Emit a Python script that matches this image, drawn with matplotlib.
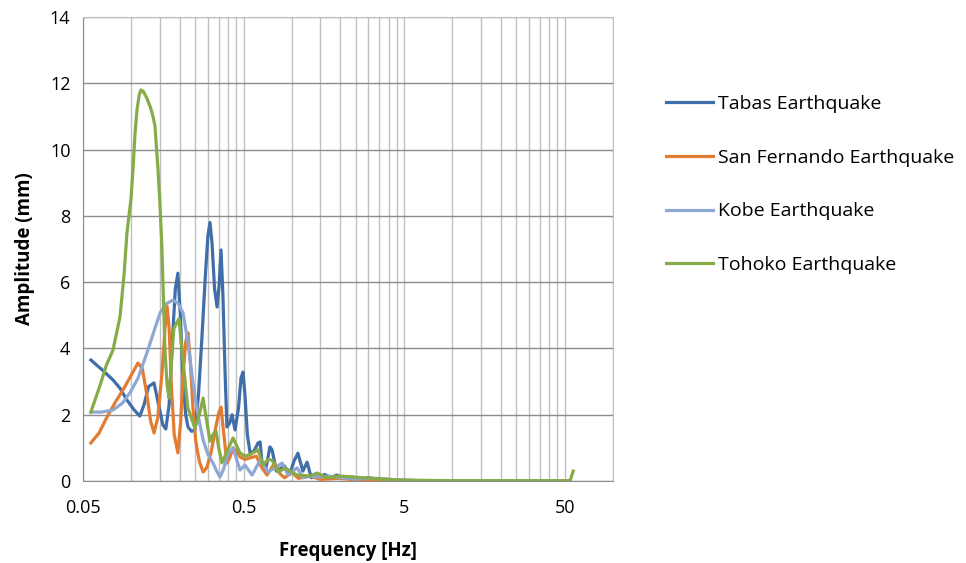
import numpy as np
import matplotlib
matplotlib.use('Agg')
import matplotlib.pyplot as plt
from matplotlib.ticker import FixedLocator, FixedFormatter, NullFormatter

plt.rcParams['font.family'] = ['Open Sans', 'DejaVu Sans']

# data (frequency in Hz, amplitude in mm)
tabas_f = [0.056, 0.066, 0.0769, 0.085, 0.094, 0.104, 0.113, 0.12, 0.128, 0.1385, 0.148, 0.157, 0.164,
           0.172, 0.18, 0.188, 0.195, 0.202, 0.21, 0.218, 0.2255, 0.237, 0.249, 0.262, 0.275, 0.29, 0.3,
           0.309, 0.318, 0.33, 0.342, 0.352, 0.362, 0.372, 0.384, 0.394, 0.41, 0.424, 0.4425, 0.465,
           0.482, 0.496, 0.51, 0.528, 0.549, 0.58, 0.616, 0.634, 0.652, 0.69, 0.73, 0.753, 0.8, 0.9,
           0.97, 1.03, 1.09, 1.17, 1.244, 1.32, 1.4, 1.5, 1.6, 1.73, 1.91, 2.1, 2.4, 2.7, 3.0, 3.5, 4.2,
           6.3, 15.0, 54.0]
tabas_a = [3.65, 3.35, 3.05, 2.8, 2.44, 2.15, 1.96, 2.3, 2.85, 2.96, 2.3, 1.7, 1.57,
           2.3, 4.2, 5.8, 6.27, 5.0, 3.0, 2.0, 1.63, 1.5, 1.54, 2.6, 4.3, 6.3, 7.4,
           7.8, 7.2, 5.8, 5.25, 5.9, 6.97, 5.6, 3.2, 1.63, 1.75, 2.0, 1.54, 2.2,
           3.1, 3.29, 2.6, 1.4, 0.85, 0.9, 1.15, 1.18, 0.54, 0.4, 1.03, 0.94, 0.3, 0.45,
           0.2, 0.6, 0.84, 0.3, 0.57, 0.1, 0.2, 0.12, 0.2, 0.1, 0.18, 0.08, 0.12, 0.06, 0.1, 0.04, 0.03,
           0.01, 0.005, 0.005]

fernando_f = [0.056, 0.063, 0.07, 0.08, 0.09, 0.1, 0.11, 0.117, 0.125, 0.132, 0.1385, 0.146, 0.155,
              0.162, 0.167, 0.172, 0.178, 0.185, 0.195, 0.203, 0.21, 0.218, 0.2255, 0.233, 0.242, 0.252,
              0.265, 0.28, 0.295, 0.315, 0.335, 0.35, 0.362, 0.375, 0.394, 0.41, 0.43, 0.45, 0.475,
              0.51, 0.55, 0.6, 0.65, 0.7, 0.78, 0.85, 0.9, 1.0, 1.1, 1.3, 1.5, 2.0, 2.5, 4.0, 10.0, 54.0]
fernando_a = [1.15, 1.45, 1.9, 2.4, 2.8, 3.2, 3.56, 3.4, 2.6, 1.8, 1.45, 1.9, 3.2,
              4.6, 5.28, 4.6, 2.8, 1.4, 0.85, 1.8, 3.2, 4.2, 4.47, 3.6, 2.2, 1.2,
              0.6, 0.27, 0.4, 0.9, 1.6, 2.05, 2.23, 1.5, 0.54, 0.7, 1.0, 0.9, 0.73,
              0.65, 0.7, 0.75, 0.4, 0.18, 0.54, 0.2, 0.1, 0.25, 0.08, 0.15, 0.05, 0.08, 0.03, 0.01, 0.003, 0.003]

kobe_f = [0.056, 0.065, 0.0769, 0.088, 0.098, 0.11, 0.125, 0.138, 0.151, 0.165, 0.182, 0.196, 0.21,
          0.225, 0.242, 0.26, 0.28, 0.3, 0.323, 0.34, 0.357, 0.375, 0.4, 0.43, 0.45, 0.475, 0.51,
          0.565, 0.634, 0.71, 0.87, 0.947, 1.077, 1.17, 1.3, 1.5, 1.7, 2.0, 2.5, 3.0, 3.5, 4.5, 6.3,
          15.0, 54.0]
kobe_a = [2.08, 2.08, 2.14, 2.35, 2.66, 3.1, 3.86, 4.5, 5.07, 5.35, 5.46, 5.35, 5.07,
          4.2, 2.96, 2.0, 1.24, 0.8, 0.54, 0.3, 0.12, 0.35, 0.8, 1.0, 0.7, 0.33, 0.48,
          0.18, 0.63, 0.27, 0.54, 0.18, 0.4, 0.1, 0.15, 0.12, 0.15, 0.1, 0.06, 0.08, 0.08, 0.03, 0.01,
          0.005, 0.005]

tohoku_f = [0.056, 0.064, 0.07, 0.0769, 0.085, 0.09, 0.094, 0.0995, 0.1024, 0.1055, 0.1085, 0.112,
            0.1149, 0.119, 0.125, 0.131, 0.1365, 0.1405, 0.1466, 0.151, 0.155, 0.159, 0.162, 0.167,
            0.172, 0.178, 0.184, 0.198, 0.21, 0.225, 0.249, 0.265, 0.28, 0.295, 0.309, 0.322, 0.337,
            0.35, 0.367, 0.395, 0.43, 0.475, 0.51, 0.55, 0.616, 0.661, 0.71, 0.753, 0.82, 0.907,
            1.077, 1.3, 1.435, 1.66, 2.0, 2.4, 2.94, 4.72, 10.0, 54.0, 56.5]
tohoku_a = [2.08, 2.9, 3.5, 3.95, 4.95, 6.2, 7.5, 8.5, 9.4, 10.5, 11.2, 11.65,
            11.8, 11.75, 11.55, 11.3, 11.0, 10.7, 9.4, 8.3, 7.06, 5.3, 3.95, 2.9,
            2.5, 3.6, 4.6, 4.9, 3.6, 2.2, 1.6, 2.0, 2.5, 1.8, 1.2, 1.4, 1.5,
            1.0, 0.55, 0.9, 1.3, 0.85, 0.75, 0.8, 0.94, 0.48, 0.65, 0.63, 0.27, 0.39,
            0.18, 0.15, 0.24, 0.1, 0.15, 0.12, 0.09, 0.03, 0.01, 0.01, 0.3]

labels = ['Tabas Earthquake', 'San Fernando Earthquake', 'Kobe Earthquake', 'Tohoko Earthquake']
colors = ['#3F6EA8', '#E37B33', '#8EA8D3', '#86AB47']
major_ticks = [0.05, 0.5, 5, 50]

fig = plt.figure(figsize=(9.66, 5.63), dpi=100)
ax = fig.add_axes([0.0859, 0.1456, 0.5487, 0.8242])

series = [(tabas_f, tabas_a), (fernando_f, fernando_a), (kobe_f, kobe_a), (tohoku_f, tohoku_a)]
for (f, a), lab, c in zip(series, labels, colors):
    ax.plot(f, a, color=c, lw=2.3, label=lab, solid_joinstyle='round', zorder=3)

ax.set_xscale('log')
ax.set_xlim(0.05, 100)
ax.set_ylim(0, 14)
ax.set_yticks(range(0, 15, 2))

# excel style log grid: 0.05*k*10^n
minor = [0.05 * k * 10 ** n for n in range(4) for k in range(1, 11)]
ax.xaxis.set_major_locator(FixedLocator(major_ticks))
ax.xaxis.set_major_formatter(FixedFormatter(['0.05', '0.5', '5', '50']))
ax.xaxis.set_minor_locator(FixedLocator(minor))
ax.xaxis.set_minor_formatter(NullFormatter())

ax.grid(True, which='minor', axis='x', color='#c0c0c0', lw=1.0)
ax.grid(True, which='major', axis='x', color='#c0c0c0', lw=1.0)
ax.grid(True, which='major', axis='y', color='#8c8c8c', lw=1.0)
ax.set_axisbelow(True)

for s in ax.spines.values():
    s.set_color('#c0c0c0')
ax.spines['left'].set_color('#8c8c8c')
ax.spines['bottom'].set_color('#8c8c8c')

ax.tick_params(which='both', length=0, labelsize=13)
ax.tick_params(axis='x', pad=13)
ax.tick_params(axis='y', pad=9)
ax.set_xlabel('Frequency [Hz]', fontsize=13.5, fontweight='bold', labelpad=17)
ax.set_ylabel('Amplitude (mm)', fontsize=13.5, fontweight='bold', labelpad=11)

leg = ax.legend(loc='upper left', bbox_to_anchor=(1.0675, 0.87), frameon=False, fontsize=14,
                handlelength=2.4, handletextpad=0.25, labelspacing=1.84)

fig.savefig('out.png', dpi=100)
